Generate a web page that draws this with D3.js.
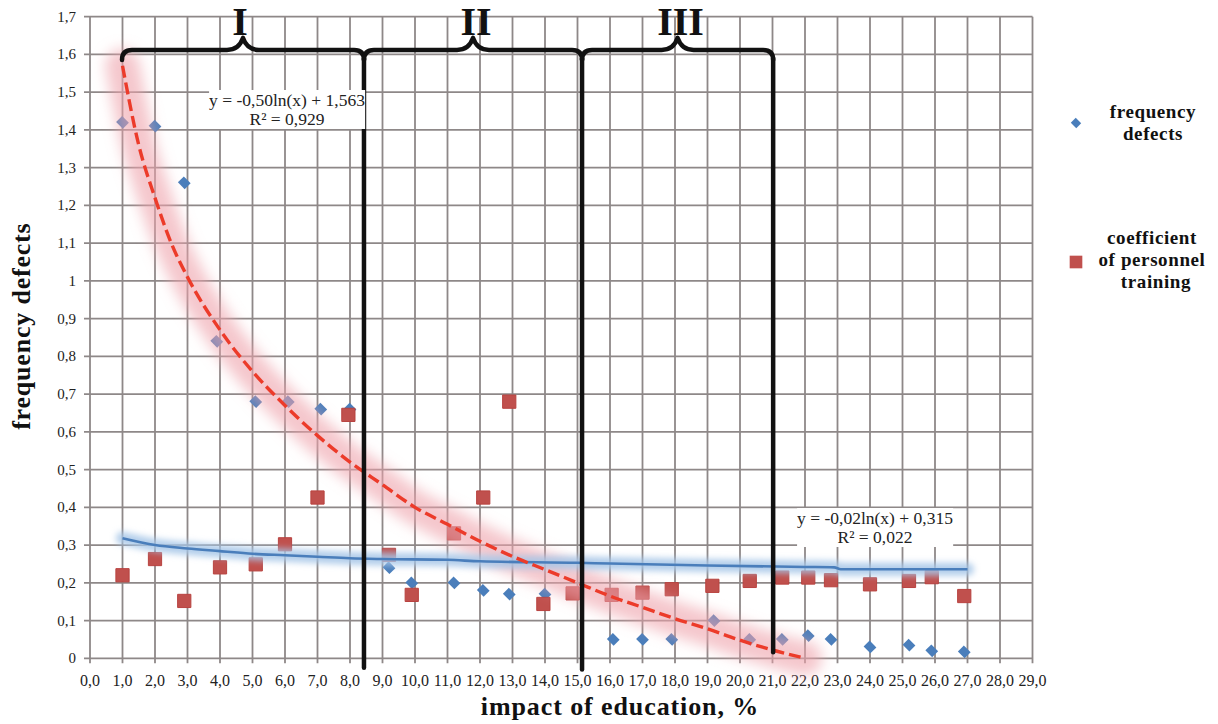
<!DOCTYPE html>
<html>
<head>
<meta charset="utf-8">
<script src="https://cdn.jsdelivr.net/npm/d3@7"></script>
<style>
  html, body { margin: 0; padding: 0; background: #fff; }
  svg { display: block; font-family: "Liberation Serif", "DejaVu Serif", serif; }
</style>
</head>
<body>
<div id="chart"></div>
<script>
// --- data ---
const xTickLabels = d3.range(0, 30).map(v => v + ",0");
const yTickValues = d3.range(0, 18).map(i => i / 10);
const yTickLabels = ["0","0,1","0,2","0,3","0,4","0,5","0,6","0,7","0,8","0,9","1",
                     "1,1","1,2","1,3","1,4","1,5","1,6","1,7"];

// frequency defects (blue diamonds)
const defectX = [1.0, 2.0, 2.9, 3.9, 5.1, 6.1, 7.1, 8.0, 9.2, 9.9, 11.2, 12.1, 12.9, 14.0,
                 16.1, 17.0, 17.9, 19.2, 20.3, 21.3, 22.1, 22.8, 24.0, 25.2, 25.9, 26.9];
const defectY = [1.42, 1.41, 1.26, 0.84, 0.68, 0.68, 0.66, 0.66, 0.24, 0.20, 0.20, 0.18, 0.17, 0.17,
                 0.05, 0.05, 0.05, 0.10, 0.05, 0.05, 0.06, 0.05, 0.03, 0.035, 0.02, 0.017];

// coefficient of personnel training (red squares)
const trainX = [1.0, 2.0, 2.9, 4.0, 5.1, 6.0, 7.0, 7.95, 9.2, 9.9, 11.2, 12.1, 12.9, 13.95,
                14.85, 16.05, 17.0, 17.9, 19.15, 20.3, 21.3, 22.1, 22.8, 24.0, 25.2, 25.9, 26.9];
const trainY = [0.22, 0.263, 0.152, 0.241, 0.249, 0.302, 0.426, 0.645, 0.274, 0.168, 0.331, 0.426, 0.68, 0.144,
                0.172, 0.168, 0.174, 0.183, 0.192, 0.205, 0.214, 0.214, 0.207, 0.196, 0.205, 0.215, 0.165];

// trend lines as traced on the figure
const redTrendX = [1, 1.5, 2, 2.5, 3, 4, 5, 6, 7, 8, 9, 10, 11, 12, 13, 14, 15, 16, 17, 18, 19, 20, 21, 22];
const redTrendY = [1.57, 1.36, 1.22, 1.1, 1.01, 0.87, 0.76, 0.67, 0.59, 0.52, 0.46, 0.40, 0.355, 0.31,
                   0.27, 0.235, 0.20, 0.165, 0.135, 0.105, 0.078, 0.048, 0.022, 0.0];
const blueTrendX = [1, 2, 3, 4, 5, 6, 7, 8, 9, 11, 12, 15, 16, 19, 22, 22.9, 23.1, 27];
const blueTrendY = [0.318, 0.30, 0.291, 0.284, 0.277, 0.273, 0.269, 0.265, 0.263, 0.261, 0.257, 0.253,
                    0.251, 0.246, 0.242, 0.241, 0.236, 0.236];

const seriesNames = [["frequency", "defects"], ["coefficient", "of personnel", "training"]];
const eqRed  = ["y = -0,50ln(x) + 1,563", "R\u00b2 = 0,929"];
const eqBlue = ["y = -0,02ln(x)  + 0,315", "R\u00b2 = 0,022"];

// stage brackets (in x units) and their labels
const stageLabels = ["I", "II", "III"];
const stageBounds = [0.985, 8.43, 15.14, 21.02];
const stageLineBottom = [-0.025, -0.03, 0.016];

// --- layout ---
const W = 1218, H = 724;
const x = d3.scaleLinear().domain([0, 29]).range([90, 1032.5]);
const y = d3.scaleLinear().domain([0, 1.7]).range([658.3, 16.7]);
const blue = "#4a7ebb", red = "#c0504d", gridC = "#8e8888";

const svg = d3.select("#chart").append("svg").attr("width", W).attr("height", H);
svg.append("rect").attr("width", W).attr("height", H).attr("fill", "#fff");

const defs = svg.append("defs");
defs.append("filter").attr("id", "glowR").attr("x", "-10%").attr("y", "-10%")
  .attr("width", "120%").attr("height", "120%")
  .append("feGaussianBlur").attr("stdDeviation", 7);
defs.append("filter").attr("id", "glowB").attr("x", "-10%").attr("y", "-50%")
  .attr("width", "120%").attr("height", "200%")
  .append("feGaussianBlur").attr("stdDeviation", 3);

// grid
const grid = svg.append("g");
grid.selectAll("line.v").data(d3.range(0, 30)).join("line")
  .attr("x1", d => x(d)).attr("x2", d => x(d))
  .attr("y1", y(1.7)).attr("y2", y(0) + 5)
  .attr("stroke", gridC).attr("stroke-width", 1.8);
grid.selectAll("line.h").data(yTickValues).join("line")
  .attr("x1", x(0) - 6).attr("x2", x(29))
  .attr("y1", d => y(d)).attr("y2", d => y(d))
  .attr("stroke", gridC).attr("stroke-width", 1.8);

// tick labels
svg.append("g").selectAll("text").data(yTickValues).join("text")
  .attr("x", x(0) - 14).attr("y", d => y(d) + 5)
  .attr("text-anchor", "end").attr("font-size", 15).attr("fill", "#222")
  .text((d, i) => yTickLabels[i]);
svg.append("g").selectAll("text").data(xTickLabels).join("text")
  .attr("x", (d, i) => x(i)).attr("y", 686)
  .attr("text-anchor", "middle").attr("font-size", 16)
  .attr("fill", "#222")
  .text(d => d);

// axis titles
svg.append("text").attr("transform", `translate(30,${y(0.88)}) rotate(-90)`)
  .attr("text-anchor", "middle").attr("font-size", 26).attr("font-weight", "bold")
  .attr("letter-spacing", 0.8).attr("fill", "#111").text("frequency defects");
svg.append("text").attr("x", 620).attr("y", 715)
  .attr("text-anchor", "middle").attr("font-size", 26).attr("font-weight", "bold")
  .attr("letter-spacing", 0.9).attr("fill", "#111").text("impact of education, %");

// markers
const diamond = d3.symbol(d3.symbolSquare, 92);
const square = d3.symbol(d3.symbolSquare, 175);
svg.append("g").selectAll("path").data(defectX).join("path")
  .attr("d", diamond)
  .attr("transform", (d, i) => `translate(${x(d)},${y(defectY[i])}) rotate(45) scale(1,0.88)`)
  .attr("fill", blue);
svg.append("g").selectAll("path").data(trainX).join("path")
  .attr("d", square)
  .attr("transform", (d, i) => `translate(${x(d)},${y(trainY[i])})`)
  .attr("fill", red).attr("stroke", "#b8423f").attr("stroke-width", 1);

// trend lines
const redPts = redTrendX.map((d, i) => [d, redTrendY[i]]);
const bluePts = blueTrendX.map((d, i) => [d, blueTrendY[i]]);
const line = d3.line().x(d => x(d[0])).y(d => y(d[1])).curve(d3.curveMonotoneX);

svg.append("path").attr("d", line(redPts)).attr("fill", "none")
  .attr("stroke", "#eea2aa").attr("stroke-width", 34).attr("stroke-opacity", 0.6)
  .attr("stroke-linecap", "round").attr("filter", "url(#glowR)");
svg.append("path").attr("d", line(bluePts)).attr("fill", "none")
  .attr("stroke", "#a6c5e8").attr("stroke-width", 13).attr("stroke-opacity", 0.85)
  .attr("stroke-linecap", "round").attr("filter", "url(#glowB)");
svg.append("path").attr("d", line(bluePts)).attr("fill", "none")
  .attr("stroke", blue).attr("stroke-width", 2.6);
svg.append("path").attr("d", line(redPts)).attr("fill", "none")
  .attr("stroke", "#ec3b2a").attr("stroke-width", 3.4)
  .attr("stroke-dasharray", "12,5");

// equation box: white background behind centred lines
function equation(lines, cx, baseY) {
  const g = svg.append("g");
  const bg = g.append("rect").attr("fill", "#fff");
  lines.forEach((t, i) => {
    g.append("text").attr("x", cx).attr("y", baseY + i * 19)
      .attr("text-anchor", "middle").attr("font-size", 17.5).attr("fill", "#222").text(t);
  });
  const b = g.node().getBBox();
  bg.attr("x", b.x).attr("y", b.y).attr("width", b.width).attr("height", b.height);
  return g;
}
equation(eqBlue, 875, 524);

// stage brackets
const y0 = y(1.612);
const brace = svg.append("g").attr("fill", "none").attr("stroke", "#111")
  .attr("stroke-width", 4.5).attr("stroke-linecap", "round").attr("stroke-linejoin", "round");
stageLabels.forEach((lab, i) => {
  const a = x(stageBounds[i]), b = x(stageBounds[i + 1]);
  const m = (a + b) / 2;
  const p = d3.path();
  p.moveTo(a, y0 + 10);
  p.quadraticCurveTo(a, y0, a + 10, y0);
  p.lineTo(m - 16, y0);
  p.quadraticCurveTo(m - 4, y0, m, y0 - 12);
  p.quadraticCurveTo(m + 4, y0, m + 16, y0);
  p.lineTo(b - 10, y0);
  p.quadraticCurveTo(b, y0, b, y0 + 10);
  brace.append("path").attr("d", p.toString());
  svg.append("text").attr("x", m + (i === 0 ? -3 : 3)).attr("y", y0 - 15)
    .attr("text-anchor", "middle").attr("font-size", 40).attr("font-weight", "bold")
    .attr("fill", "#111").text(lab);
});
stageBounds.slice(1).forEach((v, i) => {
  brace.append("line").attr("x1", x(v)).attr("x2", x(v))
    .attr("y1", y0 + 8).attr("y2", y(stageLineBottom[i]));
});

// equation for the log trend sits on top of bracket I line
equation(eqRed, 287, 106);

// legend
const legend = svg.append("g");
legend.append("path").attr("d", d3.symbol(d3.symbolSquare, 60))
  .attr("transform", "translate(1076,123) rotate(45) scale(1,0.9)").attr("fill", blue);
legend.append("path").attr("d", d3.symbol(d3.symbolSquare, 160))
  .attr("transform", "translate(1076,262)").attr("fill", red);
seriesNames[0].forEach((t, i) => {
  legend.append("text").attr("x", 1153).attr("y", 118 + i * 22)
    .attr("text-anchor", "middle").attr("font-size", 19).attr("font-weight", "bold")
    .attr("letter-spacing", 0.6).attr("fill", "#111").text(t);
});
seriesNames[1].forEach((t, i) => {
  legend.append("text").attr("x", 1152 + (i === 2 ? 4 : 0)).attr("y", 244 + i * 22)
    .attr("text-anchor", "middle").attr("font-size", 19).attr("font-weight", "bold")
    .attr("letter-spacing", 0.6).attr("fill", "#111").text(t);
});
</script>
</body>
</html>
